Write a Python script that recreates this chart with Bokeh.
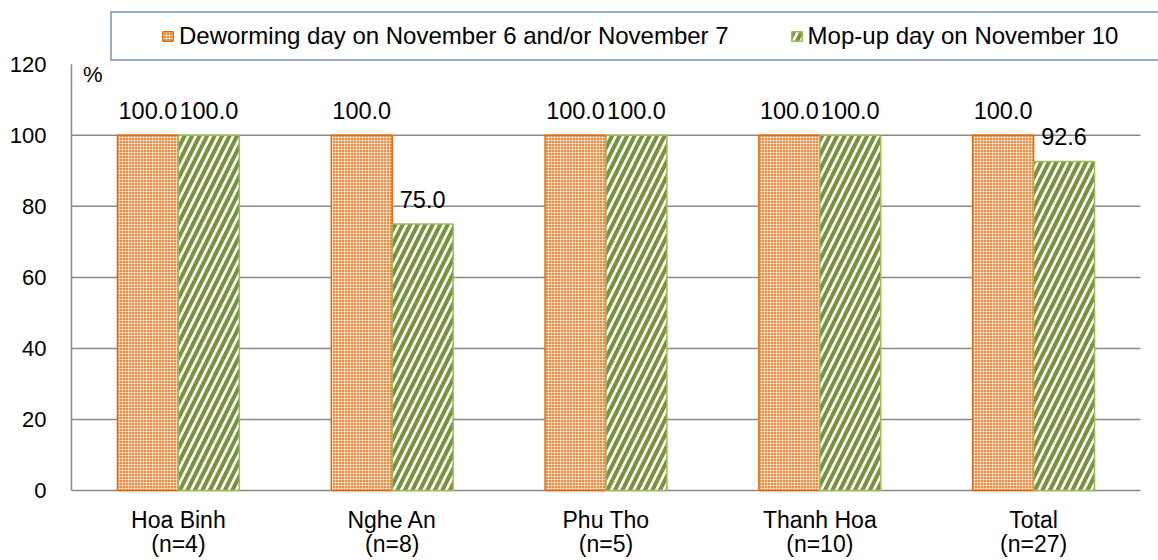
from bokeh.plotting import figure
from bokeh.models import (ColumnDataSource, Legend, LegendItem,
                          FixedTicker, Label, Range1d)
from bokeh.core.properties import value
from bokeh.embed import file_html
from bokeh.resources import INLINE

# ---- data ----
categories = ["Hoa Binh", "Nghe An", "Phu Tho", "Thanh Hoa", "Total"]
sample_sizes = ["(n=4)", "(n=8)", "(n=5)", "(n=10)", "(n=27)"]
deworming_day = [100.0, 100.0, 100.0, 100.0, 100.0]
mop_up_day = [100.0, 75.0, 100.0, 100.0, 92.6]
y_ticks = [0, 20, 40, 60, 80, 100, 120]
series_names = ["Deworming day on November 6 and/or November 7",
                "Mop-up day on November 10"]

FONT = "Liberation Sans"
GRID = "#898989"
ORANGE = "#E46C0A"
GREEN_LINE = "#9BBB59"
GREEN_HATCH = "#77933C"

# layout (pixels)
PX_PER_CAT = 213.8
PX_PER_UNIT = 3.567
FRAME_TOP, AXIS_TOP = 5, 64
PAD_L, PAD_R, PAD_B = 2, 18, 2

ncat = len(categories)
centers = [i + 0.5 for i in range(ncat)]
bw = 0.285
x_dew = [c - bw / 2 for c in centers]
x_mop = [c + bw / 2 for c in centers]

src_dew = ColumnDataSource(dict(x=x_dew, top=deworming_day,
                                lab=[f"{v:.1f}" for v in deworming_day],
                                ly=[v + 7 for v in deworming_day]))
src_mop = ColumnDataSource(dict(x=x_mop, top=mop_up_day,
                                lab=[f"{v:.1f}" for v in mop_up_day],
                                ly=[v + 7 for v in mop_up_day]))

y_end = y_ticks[-1] + (AXIS_TOP - FRAME_TOP) / PX_PER_UNIT
p = figure(width=1158, height=560, output_backend="svg", toolbar_location=None,
           x_range=Range1d(-PAD_L / PX_PER_CAT, ncat + PAD_R / PX_PER_CAT),
           y_range=Range1d(-PAD_B / PX_PER_UNIT, y_end),
           min_border_left=69, min_border_right=0, min_border_top=FRAME_TOP,
           min_border_bottom=66)
p.outline_line_color = None
p.background_fill_color = "white"
p.border_fill_color = "white"

# gridlines (20..100), baseline and y-axis line
grid_y = y_ticks[1:-1]
p.segment(x0=[0] * len(grid_y), y0=grid_y, x1=[ncat] * len(grid_y), y1=grid_y,
          line_color=GRID, line_width=1.5)
p.segment(x0=[0], y0=[y_ticks[0]], x1=[ncat], y1=[y_ticks[0]],
          line_color=GRID, line_width=1.5)
p.segment(x0=[0], y0=[y_ticks[0]], x1=[0], y1=[y_ticks[-1]],
          line_color=GRID, line_width=1.5)

r1 = p.vbar(x="x", top="top", width=bw, bottom=0, source=src_dew,
            fill_color="#F08A3C", line_color=ORANGE, line_width=1.5,
            hatch_pattern="cross", hatch_color="white", hatch_scale=3,
            hatch_weight=1, hatch_alpha=0.6)
r2 = p.vbar(x="x", top="top", width=bw, bottom=0, source=src_mop,
            fill_color="white", line_color=GREEN_LINE, line_width=1.5,
            hatch_pattern="right_diagonal_line", hatch_color=GREEN_HATCH,
            hatch_scale=15, hatch_weight=4)

for s in (src_dew, src_mop):
    p.text(x="x", y="ly", text="lab", source=s, text_align="center",
           text_baseline="middle", text_font=value(FONT),
           text_font_size="23.5px", text_color="black")

# axes
p.yaxis.ticker = FixedTicker(ticks=y_ticks)
p.xaxis.ticker = FixedTicker(ticks=centers)
p.xaxis.major_label_overrides = {c: f"{cat}\n{n}" for c, cat, n in
                                 zip(centers, categories, sample_sizes)}
for ax in (p.xaxis, p.yaxis):
    ax.axis_line_color = None
    ax.major_tick_line_color = None
    ax.minor_tick_line_color = None
    ax.major_tick_in = 0
    ax.major_tick_out = 0
    ax.major_label_text_font = FONT
    ax.major_label_text_color = "black"
p.yaxis.major_label_text_font_size = "22px"
p.xaxis.major_label_text_font_size = "23px"
p.yaxis.major_label_standoff = 23
p.xaxis.major_label_standoff = 14
p.xaxis.major_label_text_line_height = 0.95

p.xgrid.grid_line_color = None
p.ygrid.grid_line_color = None

p.add_layout(Label(x=0.1, y=117.2, text="%", text_align="center",
                   text_baseline="middle", text_font=FONT,
                   text_font_size="22px", text_color="black"))

legend = Legend(items=[LegendItem(label=series_names[0], renderers=[r1]),
                       LegendItem(label=series_names[1], renderers=[r2])],
                orientation="horizontal", location=(41, 431),
                title=" ", title_location="left", title_standoff=13,
                title_text_font=FONT, title_text_font_size="23px",
                border_line_color="#34558A", border_line_width=2,
                background_fill_color="white", background_fill_alpha=1.0,
                padding=9, margin=0, spacing=61, glyph_width=13,
                glyph_height=12, label_standoff=5, label_height=23,
                label_width=420,
                label_text_font=FONT, label_text_font_size="24px",
                label_text_color="black")
p.add_layout(legend, "center")

open("out.html", "w").write(file_html(p, INLINE))
